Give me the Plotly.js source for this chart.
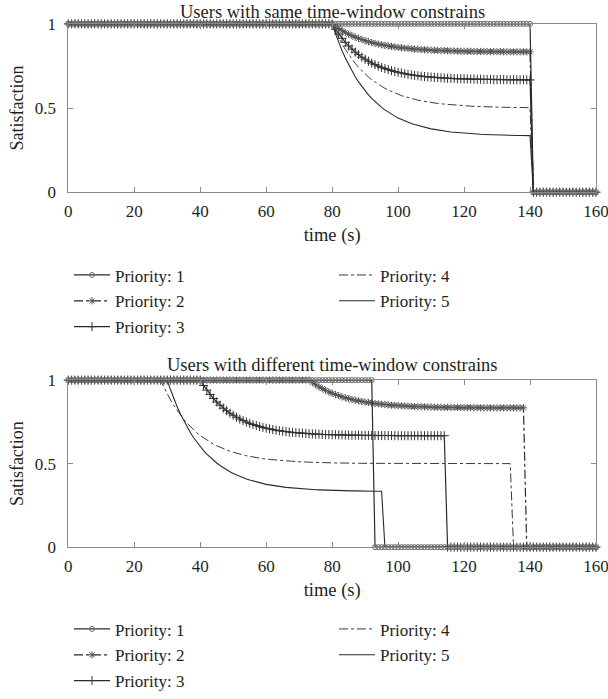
<!DOCTYPE html>
<html>
<head>
<meta charset="utf-8">
<script src="https://cdn.plot.ly/plotly-3.0.1.min.js"></script>
<style>
  html, body { margin: 0; padding: 0; background: #ffffff; }
  #chart { width: 608px; height: 699px; }
</style>
</head>
<body>
<div id="chart"></div>
<script>
// Simulation time, one sample per second
const time = [
  0,1,2,3,4,5,6,7,8,9,
  10,11,12,13,14,15,16,17,18,19,
  20,21,22,23,24,25,26,27,28,29,
  30,31,32,33,34,35,36,37,38,39,
  40,41,42,43,44,45,46,47,48,49,
  50,51,52,53,54,55,56,57,58,59,
  60,61,62,63,64,65,66,67,68,69,
  70,71,72,73,74,75,76,77,78,79,
  80,81,82,83,84,85,86,87,88,89,
  90,91,92,93,94,95,96,97,98,99,
  100,101,102,103,104,105,106,107,108,109,
  110,111,112,113,114,115,116,117,118,119,
  120,121,122,123,124,125,126,127,128,129,
  130,131,132,133,134,135,136,137,138,139,
  140,141,142,143,144,145,146,147,148,149,
  150,151,152,153,154,155,156,157,158,159,
  160
];

const priorityNames = ["Priority: 1", "Priority: 2", "Priority: 3", "Priority: 4", "Priority: 5"];

// ---- Users with the same time-window constraint ----
const sameP1 = [
  1,1,1,1,1,1,1,1,1,1,
  1,1,1,1,1,1,1,1,1,1,
  1,1,1,1,1,1,1,1,1,1,
  1,1,1,1,1,1,1,1,1,1,
  1,1,1,1,1,1,1,1,1,1,
  1,1,1,1,1,1,1,1,1,1,
  1,1,1,1,1,1,1,1,1,1,
  1,1,1,1,1,1,1,1,1,1,
  1,1,1,1,1,1,1,1,1,1,
  1,1,1,1,1,1,1,1,1,1,
  1,1,1,1,1,1,1,1,1,1,
  1,1,1,1,1,1,1,1,1,1,
  1,1,1,1,1,1,1,1,1,1,
  1,1,1,1,1,1,1,1,1,1,
  1,0,0,0,0,0,0,0,0,0,
  0,0,0,0,0,0,0,0,0,0,
  0
];
const sameP2 = [
  1,1,1,1,1,1,1,1,1,1,
  1,1,1,1,1,1,1,1,1,1,
  1,1,1,1,1,1,1,1,1,1,
  1,1,1,1,1,1,1,1,1,1,
  1,1,1,1,1,1,1,1,1,1,
  1,1,1,1,1,1,1,1,1,1,
  1,1,1,1,1,1,1,1,1,1,
  1,1,1,1,1,1,1,1,1,1,
  1,0.986,0.972,0.960,0.949,0.939,0.930,0.921,0.914,0.907,
  0.900,0.894,0.889,0.884,0.880,0.876,0.872,0.869,0.866,0.863,
  0.860,0.858,0.856,0.854,0.852,0.850,0.849,0.847,0.846,0.845,
  0.844,0.843,0.842,0.841,0.841,0.840,0.839,0.839,0.838,0.838,
  0.837,0.837,0.837,0.836,0.836,0.836,0.836,0.835,0.835,0.835,
  0.835,0.835,0.834,0.834,0.834,0.834,0.834,0.834,0.834,0.834,
  0.834,0,0,0,0,0,0,0,0,0,
  0,0,0,0,0,0,0,0,0,0,
  0
];
const sameP3 = [
  1,1,1,1,1,1,1,1,1,1,
  1,1,1,1,1,1,1,1,1,1,
  1,1,1,1,1,1,1,1,1,1,
  1,1,1,1,1,1,1,1,1,1,
  1,1,1,1,1,1,1,1,1,1,
  1,1,1,1,1,1,1,1,1,1,
  1,1,1,1,1,1,1,1,1,1,
  1,1,1,1,1,1,1,1,1,1,
  1,0.968,0.940,0.914,0.890,0.869,0.850,0.832,0.817,0.802,
  0.790,0.778,0.767,0.758,0.749,0.741,0.734,0.728,0.722,0.717,
  0.712,0.708,0.704,0.700,0.697,0.694,0.692,0.689,0.687,0.685,
  0.684,0.682,0.681,0.679,0.678,0.677,0.676,0.675,0.674,0.674,
  0.673,0.673,0.672,0.672,0.671,0.671,0.670,0.670,0.670,0.669,
  0.669,0.669,0.669,0.668,0.668,0.668,0.668,0.668,0.668,0.667,
  0.667,0,0,0,0,0,0,0,0,0,
  0,0,0,0,0,0,0,0,0,0,
  0
];
const sameP4 = [
  1,1,1,1,1,1,1,1,1,1,
  1,1,1,1,1,1,1,1,1,1,
  1,1,1,1,1,1,1,1,1,1,
  1,1,1,1,1,1,1,1,1,1,
  1,1,1,1,1,1,1,1,1,1,
  1,1,1,1,1,1,1,1,1,1,
  1,1,1,1,1,1,1,1,1,1,
  1,1,1,1,1,1,1,1,1,1,
  1,0.957,0.917,0.881,0.848,0.818,0.790,0.765,0.742,0.721,
  0.702,0.684,0.668,0.654,0.640,0.628,0.617,0.607,0.598,0.589,
  0.581,0.574,0.568,0.562,0.557,0.552,0.547,0.543,0.539,0.536,
  0.533,0.530,0.527,0.525,0.523,0.521,0.519,0.518,0.516,0.515,
  0.513,0.512,0.511,0.510,0.509,0.508,0.508,0.507,0.506,0.506,
  0.505,0.505,0.505,0.504,0.504,0.503,0.503,0.503,0.503,0.502,
  0.502,0,0,0,0,0,0,0,0,0,
  0,0,0,0,0,0,0,0,0,0,
  0
];
const sameP5 = [
  1,1,1,1,1,1,1,1,1,1,
  1,1,1,1,1,1,1,1,1,1,
  1,1,1,1,1,1,1,1,1,1,
  1,1,1,1,1,1,1,1,1,1,
  1,1,1,1,1,1,1,1,1,1,
  1,1,1,1,1,1,1,1,1,1,
  1,1,1,1,1,1,1,1,1,1,
  1,1,1,1,1,1,1,1,1,1,
  1,0.942,0.889,0.841,0.797,0.757,0.720,0.686,0.655,0.627,
  0.602,0.578,0.557,0.538,0.520,0.504,0.489,0.475,0.463,0.452,
  0.441,0.432,0.423,0.416,0.408,0.402,0.396,0.390,0.385,0.381,
  0.376,0.373,0.369,0.366,0.363,0.361,0.358,0.356,0.354,0.352,
  0.350,0.349,0.348,0.346,0.345,0.344,0.343,0.342,0.342,0.341,
  0.340,0.340,0.339,0.338,0.338,0.338,0.337,0.337,0.336,0.336,
  0.336,0,0,0,0,0,0,0,0,0,
  0,0,0,0,0,0,0,0,0,0,
  0
];

// ---- Users with different time-window constraints ----
const diffP1 = [
  1,1,1,1,1,1,1,1,1,1,
  1,1,1,1,1,1,1,1,1,1,
  1,1,1,1,1,1,1,1,1,1,
  1,1,1,1,1,1,1,1,1,1,
  1,1,1,1,1,1,1,1,1,1,
  1,1,1,1,1,1,1,1,1,1,
  1,1,1,1,1,1,1,1,1,1,
  1,1,1,1,1,1,1,1,1,1,
  1,1,1,1,1,1,1,1,1,1,
  1,1,1,0,0,0,0,0,0,0,
  0,0,0,0,0,0,0,0,0,0,
  0,0,0,0,0,0,0,0,0,0,
  0,0,0,0,0,0,0,0,0,0,
  0,0,0,0,0,0,0,0,0,0,
  0,0,0,0,0,0,0,0,0,0,
  0,0,0,0,0,0,0,0,0,0,
  0
];
const diffP2 = [
  1,1,1,1,1,1,1,1,1,1,
  1,1,1,1,1,1,1,1,1,1,
  1,1,1,1,1,1,1,1,1,1,
  1,1,1,1,1,1,1,1,1,1,
  1,1,1,1,1,1,1,1,1,1,
  1,1,1,1,1,1,1,1,1,1,
  1,1,1,1,1,1,1,1,1,1,
  1,1,1,1,0.986,0.972,0.960,0.949,0.939,0.930,
  0.921,0.914,0.907,0.900,0.894,0.889,0.884,0.880,0.876,0.872,
  0.869,0.866,0.863,0.860,0.858,0.856,0.854,0.852,0.850,0.849,
  0.847,0.846,0.845,0.844,0.843,0.842,0.841,0.841,0.840,0.839,
  0.839,0.838,0.838,0.837,0.837,0.837,0.836,0.836,0.836,0.836,
  0.835,0.835,0.835,0.835,0.835,0.834,0.834,0.834,0.834,0.834,
  0.834,0.834,0.834,0.834,0.834,0.834,0.834,0.834,0.834,0,
  0,0,0,0,0,0,0,0,0,0,
  0,0,0,0,0,0,0,0,0,0,
  0
];
const diffP3 = [
  1,1,1,1,1,1,1,1,1,1,
  1,1,1,1,1,1,1,1,1,1,
  1,1,1,1,1,1,1,1,1,1,
  1,1,1,1,1,1,1,1,1,1,
  1,0.968,0.940,0.914,0.890,0.869,0.850,0.832,0.817,0.802,
  0.790,0.778,0.767,0.758,0.749,0.741,0.734,0.728,0.722,0.717,
  0.712,0.708,0.704,0.700,0.697,0.694,0.692,0.689,0.687,0.685,
  0.684,0.682,0.681,0.679,0.678,0.677,0.676,0.675,0.674,0.674,
  0.673,0.673,0.672,0.672,0.671,0.671,0.670,0.670,0.670,0.669,
  0.669,0.669,0.669,0.668,0.668,0.668,0.668,0.668,0.668,0.667,
  0.667,0.667,0.667,0.667,0.667,0.667,0.667,0.667,0.667,0.667,
  0.667,0.667,0.667,0.667,0.667,0,0,0,0,0,
  0,0,0,0,0,0,0,0,0,0,
  0,0,0,0,0,0,0,0,0,0,
  0,0,0,0,0,0,0,0,0,0,
  0,0,0,0,0,0,0,0,0,0,
  0
];
const diffP4 = [
  1,1,1,1,1,1,1,1,1,1,
  1,1,1,1,1,1,1,1,1,1,
  1,1,1,1,1,1,1,1,1,0.957,
  0.917,0.881,0.848,0.818,0.790,0.765,0.742,0.721,0.702,0.684,
  0.668,0.654,0.640,0.628,0.617,0.607,0.598,0.589,0.581,0.574,
  0.568,0.562,0.557,0.552,0.547,0.543,0.539,0.536,0.533,0.530,
  0.527,0.525,0.523,0.521,0.519,0.518,0.516,0.515,0.513,0.512,
  0.511,0.510,0.509,0.508,0.508,0.507,0.506,0.506,0.505,0.505,
  0.505,0.504,0.504,0.503,0.503,0.503,0.503,0.502,0.502,0.502,
  0.502,0.501,0.501,0.501,0.501,0.501,0.501,0.501,0.501,0.500,
  0.500,0.500,0.500,0.500,0.500,0.500,0.500,0.500,0.500,0.500,
  0.500,0.500,0.500,0.500,0.500,0.500,0.500,0.500,0.500,0.500,
  0.500,0.500,0.500,0.500,0.500,0.500,0.500,0.500,0.500,0.500,
  0.500,0.500,0.500,0.500,0.500,0,0,0,0,0,
  0,0,0,0,0,0,0,0,0,0,
  0,0,0,0,0,0,0,0,0,0,
  0
];
const diffP5 = [
  1,1,1,1,1,1,1,1,1,1,
  1,1,1,1,1,1,1,1,1,1,
  1,1,1,1,1,1,1,1,1,1,
  1,0.942,0.889,0.841,0.797,0.757,0.720,0.686,0.655,0.627,
  0.602,0.578,0.557,0.538,0.520,0.504,0.489,0.475,0.463,0.452,
  0.441,0.432,0.423,0.416,0.408,0.402,0.396,0.390,0.385,0.381,
  0.376,0.373,0.369,0.366,0.363,0.361,0.358,0.356,0.354,0.352,
  0.350,0.349,0.348,0.346,0.345,0.344,0.343,0.342,0.342,0.341,
  0.340,0.340,0.339,0.338,0.338,0.338,0.337,0.337,0.336,0.336,
  0.336,0.335,0.335,0.335,0.335,0.335,0,0,0,0,
  0,0,0,0,0,0,0,0,0,0,
  0,0,0,0,0,0,0,0,0,0,
  0,0,0,0,0,0,0,0,0,0,
  0,0,0,0,0,0,0,0,0,0,
  0,0,0,0,0,0,0,0,0,0,
  0,0,0,0,0,0,0,0,0,0,
  0
];

const sameSeries = [sameP1, sameP2, sameP3, sameP4, sameP5];
const diffSeries = [diffP1, diffP2, diffP3, diffP4, diffP5];

const FONT = "Liberation Serif, Times New Roman, serif";
const INK = "#231f20";
const AXIS = "#8a8a8a";

// Line/marker style per priority
const styles = [
  { mode: "lines+markers", line: { color: "#2a2a2a", width: 1.2, dash: "solid" },
    marker: { symbol: "circle-open", size: 5, color: "#6a6a6a", line: { width: 1, color: "#6a6a6a" } } },
  { mode: "lines+markers", line: { color: "#2a2a2a", width: 1.2, dash: "dashdot" },
    marker: { symbol: "asterisk-open", size: 6, color: "#555555", line: { width: 1, color: "#555555" } } },
  { mode: "lines+markers", line: { color: "#2a2a2a", width: 1.2, dash: "solid" },
    marker: { symbol: "cross-thin-open", size: 6.5, color: "#333333", line: { width: 1, color: "#333333" } } },
  { mode: "lines", line: { color: "#3a3a3a", width: 1, dash: "dashdot" } },
  { mode: "lines", line: { color: "#2a2a2a", width: 1.1, dash: "solid" } }
];

const W = 608, H = 699;
const px = v => v / W;
const py = v => 1 - v / H;

// Lower priorities are drawn first so the priority-1 circles sit on top
const traces = [];
function addPanel(series, xa, ya, legendStart) {
  for (let i = series.length - 1; i >= 0; i--) {
    const n = legendStart + i;
    traces.push(Object.assign({
      type: "scatter",
      x: time,
      y: series[i],
      xaxis: xa,
      yaxis: ya,
      name: priorityNames[i],
      legend: n === 1 ? "legend" : "legend" + n,
      cliponaxis: false
    }, JSON.parse(JSON.stringify(styles[i]))));
  }
}
addPanel(sameSeries, "x", "y", 1);
addPanel(diffSeries, "x2", "y2", 6);

function legendAt(xPix, yPix) {
  return {
    x: px(xPix), y: py(yPix), xanchor: "left", yanchor: "middle",
    bgcolor: "rgba(0,0,0,0)", borderwidth: 0,
    font: { family: FONT, size: 17, color: INK },
    itemwidth: 36
  };
}

// legend slots: [column x, row y] for Priority 1..5
const col1 = 69, col2 = 334;
const topRows = [277, 303, 329];
const botRows = [633, 659, 685];
const slotsTop = [[col1, topRows[0]], [col1, topRows[1]], [col1, topRows[2]], [col2, topRows[0]], [col2, topRows[1]]];
const slotsBot = [[col1, botRows[0]], [col1, botRows[1]], [col1, botRows[2]], [col2, botRows[0]], [col2, botRows[1]]];

function xAxis() {
  return {
    domain: [px(68.3), px(596)],
    range: [0, 160],
    dtick: 20, tick0: 0,
    ticks: "inside", ticklen: 5, tickwidth: 1, tickcolor: AXIS,
    showline: true, linecolor: AXIS, linewidth: 1, mirror: "ticks",
    showgrid: false, zeroline: false,
    tickfont: { family: FONT, size: 17, color: INK },
    ticklabeloverflow: "allow",
    ticklabelstandoff: 3,
    title: { text: "time (s)", font: { family: FONT, size: 18.5, color: INK }, standoff: 8 }
  };
}
function yAxis(y0, y1, anchor) {
  return {
    domain: [py(y1), py(y0)],
    range: [0, 1],
    dtick: 0.5, tick0: 0,
    anchor: anchor,
    ticks: "inside", ticklen: 5, tickwidth: 1, tickcolor: AXIS,
    showline: true, linecolor: AXIS, linewidth: 1, mirror: "ticks",
    showgrid: false, zeroline: false,
    tickfont: { family: FONT, size: 17, color: INK },
    ticklabelstandoff: 8,
    title: { text: "Satisfaction", font: { family: FONT, size: 18, color: INK }, standoff: 6 }
  };
}

const layout = {
  width: W, height: H,
  margin: { l: 0, r: 0, t: 0, b: 0 },
  paper_bgcolor: "#ffffff",
  plot_bgcolor: "#ffffff",
  font: { family: FONT, size: 17, color: INK },
  showlegend: true,
  xaxis: Object.assign(xAxis(), { anchor: "y" }),
  yaxis: yAxis(24, 193.3, "x"),
  xaxis2: Object.assign(xAxis(), { anchor: "y2" }),
  yaxis2: yAxis(382.3, 550.3, "x2"),
  annotations: [
    { text: "Users with same time-window constrains", xref: "paper", yref: "paper",
      x: px(332), y: 1, xanchor: "center", yanchor: "top", showarrow: false,
      font: { family: FONT, size: 18.5, color: INK } },
    { text: "Users with different time-window constrains", xref: "paper", yref: "paper",
      x: px(332), y: py(367), xanchor: "center", yanchor: "middle", showarrow: false,
      font: { family: FONT, size: 18.5, color: INK } }
  ]
};

slotsTop.forEach((s, i) => {
  const key = i === 0 ? "legend" : "legend" + (i + 1);
  layout[key] = legendAt(s[0], s[1]);
});
slotsBot.forEach((s, i) => {
  layout["legend" + (i + 6)] = legendAt(s[0], s[1]);
});

Plotly.newPlot("chart", traces, layout, { staticPlot: true, displayModeBar: false });
</script>
</body>
</html>
